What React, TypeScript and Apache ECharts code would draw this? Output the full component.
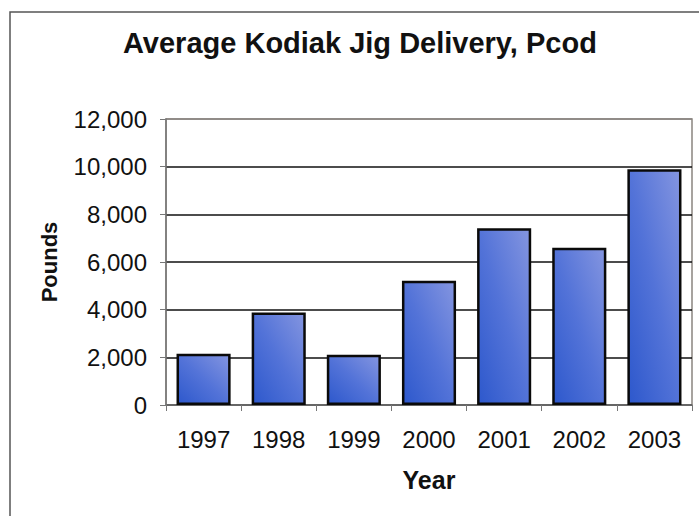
import React, { useEffect, useRef } from "react";
import * as echarts from "echarts";

const years = ["1997", "1998", "1999", "2000", "2001", "2002", "2003"];
const pounds = [2150, 3880, 2110, 5210, 7420, 6600, 9890];
const yTicks = [0, 2000, 4000, 6000, 8000, 10000, 12000];

export default function App() {
  const ref = useRef<HTMLDivElement>(null);
  useEffect(() => {
    document.body.style.margin = "0";
    const chart = echarts.init(ref.current!, null, { renderer: "svg" });
    const font = "'Liberation Sans', Arial, sans-serif";
    chart.setOption({
      animation: false,
      backgroundColor: "#ffffff",
      title: {
        text: "Average Kodiak Jig Delivery, Pcod",
        left: 118,
        top: 23,
        textStyle: { fontFamily: font, fontSize: 29, fontWeight: "bold", color: "#111" },
      },
      graphic: [
        {
          type: "rect",
          shape: { x: 10, y: 12, width: 720, height: 540 },
          style: { fill: "none", stroke: "#555", lineWidth: 1.5 },
          silent: true,
        },
      ],
      grid: {
        left: 166,
        right: 7,
        top: 119,
        bottom: 111,
        show: true,
        borderColor: "#8a8580",
        borderWidth: 1.5,
        backgroundColor: "transparent",
      },
      xAxis: {
        type: "category",
        data: years,
        name: "Year",
        nameLocation: "middle",
        nameGap: 62,
        nameTextStyle: { fontFamily: font, fontSize: 25, fontWeight: "bold", color: "#111" },
        axisLine: { lineStyle: { color: "#777", width: 1.5 } },
        axisTick: { show: true, length: 6, alignWithLabel: false, lineStyle: { color: "#777" } },
        axisLabel: { fontFamily: font, fontSize: 24, color: "#111", margin: 22 },
      },
      yAxis: {
        type: "value",
        min: 0,
        max: 12000,
        interval: 2000,
        name: "Pounds",
        nameLocation: "middle",
        nameRotate: 90,
        nameGap: 106,
        nameTextStyle: { fontFamily: font, fontSize: 22, fontWeight: "bold", color: "#111" },
        axisLine: { show: true, lineStyle: { color: "#777", width: 1.5 } },
        axisTick: { show: true, length: 6, lineStyle: { color: "#777" } },
        axisLabel: {
          fontFamily: font,
          fontSize: 24,
          color: "#111",
          margin: 19,
          formatter: (v: number) => v.toLocaleString("en-US"),
        },
        splitLine: {
          show: true,
          lineStyle: {
            color: yTicks.map((t) => (t === 12000 ? "#8a8580" : "#111")),
            width: 1.5,
          },
        },
      },
      series: [
        {
          type: "bar",
          data: pounds,
          barCategoryGap: "28%",
          itemStyle: {
            color: new echarts.graphic.LinearGradient(1, 0, 0, 1, [
              { offset: 0, color: "#8495e0" },
              { offset: 0.5, color: "#5373d8" },
              { offset: 1, color: "#2d58cc" },
            ]),
            borderColor: "#0a0a0a",
            borderWidth: 2.5,
          },
        },
      ],
    });
    return () => chart.dispose();
  }, []);
  return <div ref={ref} style={{ width: 699, height: 516 }} />;
}
